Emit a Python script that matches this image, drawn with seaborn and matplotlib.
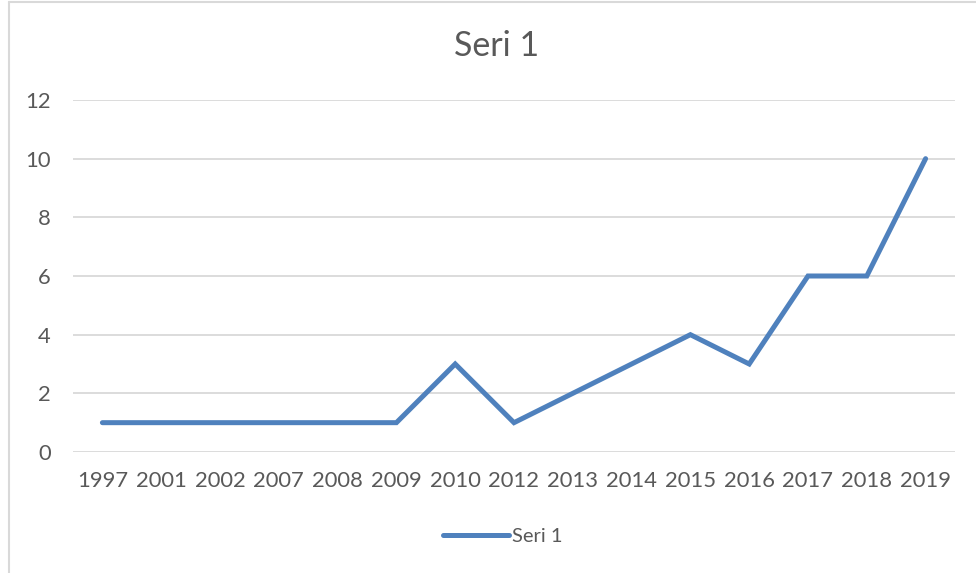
import matplotlib
matplotlib.use("Agg")
import matplotlib.pyplot as plt
import pandas as pd
import seaborn as sns
from matplotlib.lines import Line2D

years = ["1997", "2001", "2002", "2007", "2008", "2009", "2010", "2012",
         "2013", "2014", "2015", "2016", "2017", "2018", "2019"]
values = [1, 1, 1, 1, 1, 1, 3, 1, 2, 3, 4, 3, 6, 6, 10]
y_ticks = [0, 2, 4, 6, 8, 10, 12]
series_name = "Seri 1"

LINE_COLOR = "#4f81bd"
TEXT_COLOR = "#595959"
GRID_COLOR = "#d9d9d9"

sns.set_theme(style="white")
plt.rcParams["font.family"] = ["Lato", "DejaVu Sans"]

df = pd.DataFrame({"year": years, "value": values})

fig = plt.figure(figsize=(9.76, 5.73), dpi=100)
ax = fig.add_axes([73 / 976, 1 - 452 / 573, (955 - 73) / 976, (452 - 100) / 573])

sns.lineplot(data=df, x="year", y="value", ax=ax, color=LINE_COLOR,
             linewidth=3.6, solid_capstyle="round", solid_joinstyle="miter",
             sort=False)

ax.set_xlim(-0.5, len(years) - 0.5)
ax.set_ylim(0, 12)
ax.set_yticks(y_ticks)
ax.yaxis.grid(True, color=GRID_COLOR, linewidth=1.3)
ax.set_axisbelow(True)
for s in ax.spines.values():
    s.set_visible(False)
ax.tick_params(axis="both", length=0, labelsize=15.8, labelcolor=TEXT_COLOR)
ax.tick_params(axis="x", pad=14)
ax.tick_params(axis="y", pad=16)
ax.set_xlabel("")
ax.set_ylabel("")
for ln in ax.lines:
    ln.set_clip_on(False)

fig.text(497 / 976, 1 - 46 / 573, series_name, ha="center", va="center",
         fontsize=24.5, color=TEXT_COLOR)

handle = Line2D([0], [0], color=LINE_COLOR, linewidth=3.6, solid_capstyle="round")
fig.legend([handle], [series_name], loc="center", bbox_to_anchor=(503 / 976, 1 - 536 / 573),
           frameon=False, fontsize=14.5, labelcolor=TEXT_COLOR, handlelength=3.3,
           handletextpad=0.15)

# chart border (left and top edges visible)
fig.add_artist(Line2D([8.5 / 976, 8.5 / 976], [0, 1 - 1.5 / 573], color=GRID_COLOR,
                      linewidth=1.5, transform=fig.transFigure))
fig.add_artist(Line2D([8.5 / 976, 1], [1 - 1.5 / 573, 1 - 1.5 / 573], color=GRID_COLOR,
                      linewidth=1.5, transform=fig.transFigure))

fig.savefig("out.png", dpi=100, facecolor="white")
